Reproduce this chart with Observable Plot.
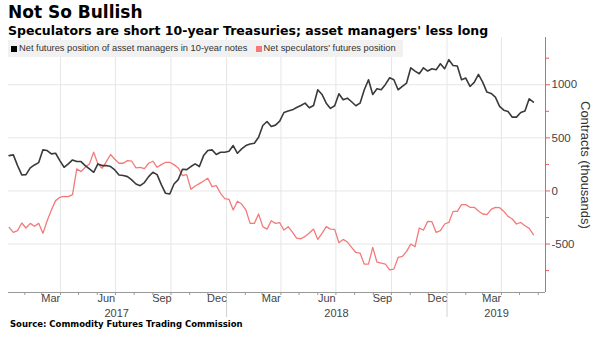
<!DOCTYPE html>
<html><head><meta charset="utf-8">
<script src="https://cdn.jsdelivr.net/npm/d3@7"></script>
<script src="https://cdn.jsdelivr.net/npm/@observablehq/plot@0.6"></script>
<style>
body{margin:0;background:#fff;}
#wrap{position:relative;width:607px;height:345px;overflow:hidden;font-family:"DejaVu Sans",sans-serif;color:#000;}
#title{position:absolute;left:8px;top:2px;font-weight:bold;font-size:17px;white-space:nowrap;}
#subtitle{position:absolute;left:8px;top:23px;font-weight:bold;font-size:12.5px;white-space:nowrap;}
#chart{position:absolute;left:0;top:30px;}
#legend{position:absolute;left:8px;top:40px;width:395px;height:17px;background:#f1f1f1;font-family:"Liberation Sans",sans-serif;font-size:9.3px;color:#333;line-height:17px;white-space:nowrap;}
#legend .sw{display:inline-block;width:6px;height:6px;margin:0 2px 0 3px;vertical-align:-0.5px;}
#ytitle{position:absolute;left:578px;top:100px;height:130px;writing-mode:vertical-rl;font-family:"Liberation Sans",sans-serif;font-size:13px;color:#333;white-space:nowrap;display:flex;align-items:center;justify-content:center;}
#source{position:absolute;left:10px;top:319px;font-weight:bold;font-size:8.5px;white-space:nowrap;}
</style></head>
<body><div id="wrap">
<div id="title">Not So Bullish</div>
<div id="subtitle">Speculators are short 10-year Treasuries; asset managers' less long</div>
<div id="chart"></div>
<div id="legend"></div>
<div id="ytitle"></div>
<div id="source">Source: Commodity Futures Trading Commission</div>
</div>
<script>
const seriesNames = ["Net futures position of asset managers in 10-year notes", "Net speculators' futures position"];
const seriesColors = ["#3a3a3a", "#f47a7a"];
const firstWeek = "2017-01-06";
const assetManagers = [333,340,239,151,154,217,245,267,387,381,349,355,286,223,255,292,277,277,239,208,
176,255,239,239,230,198,151,145,135,104,66,50,79,135,176,154,60,-22,-28,66,
107,204,201,230,255,230,333,381,387,343,365,365,374,428,355,396,428,443,450,506,
616,654,607,620,657,739,752,764,786,805,827,783,805,953,909,827,777,802,915,859,
874,840,802,827,953,1047,909,962,953,1003,1066,1047,953,984,1016,1160,1129,1104,1160,1129,
1151,1142,1198,1151,1236,1182,1176,1047,1063,984,1022,1097,1025,931,918,884,796,761,748,695,
695,739,752,868,837];
const speculators = [-343,-390,-374,-302,-349,-305,-333,-305,-399,-280,-179,-91,-60,-50,-53,-35,208,182,223,255,
365,255,214,277,343,299,261,261,286,280,217,223,211,261,280,223,248,270,270,248,
217,145,154,16,47,69,94,120,41,50,-22,-72,-79,-179,-97,-123,-179,-305,-305,-217,
-336,-359,-280,-305,-299,-368,-336,-387,-443,-450,-428,-396,-359,-456,-399,-336,-359,-362,-487,-456,
-481,-531,-579,-585,-689,-689,-531,-670,-679,-689,-742,-736,-626,-616,-569,-500,-525,-349,-368,-286,
-289,-390,-374,-311,-296,-192,-192,-129,-129,-154,-154,-189,-217,-223,-173,-154,-157,-192,-239,-264,
-311,-296,-327,-352,-412];
const xDomain = ["2017-01-05", "2019-06-13"];
const yDomain = [-956, 1445];
const yTickValues = [-500, 0, 500, 1000];
const yMinorTicks = [-750, -250, 250, 750, 1250];
const monthLabelDates = ["2017-03-16","2017-06-16","2017-09-16","2017-12-16","2018-03-16","2018-06-16","2018-09-16","2018-12-16","2019-03-16"];
const quarterGridDates = ["2017-04-01","2017-07-01","2017-10-01","2018-01-01","2018-04-01","2018-07-01","2018-10-01","2019-01-01","2019-04-01"];
const yearSeparators = ["2018-01-01","2019-01-01"];
const yearLabels = ["2017","2018","2019"];
const yearLabelDates = ["2017-07-03","2018-07-02","2019-03-24"];
const axisTitle = "Contracts (thousands)";

const D = s => new Date(s + "T00:00:00Z");
const start = D(firstWeek);
const weekDates = assetManagers.map((_, i) => d3.utcDay.offset(start, 7 * i));
const amData = assetManagers.map((v, i) => ({date: weekDates[i], value: v}));
const spData = speculators.map((v, i) => ({date: weekDates[i], value: v}));
const xd = xDomain.map(D);
const monthTicks = d3.utcMonths(xd[0], xd[1]);

const chart = Plot.plot({
  width: 607, height: 290,
  marginLeft: 8, marginRight: 62, marginTop: 7, marginBottom: 28,
  style: {fontFamily: "'Liberation Sans', sans-serif", fontSize: "11px", background: "transparent", color: "#444"},
  x: {type: "utc", domain: xd, label: null},
  y: {domain: yDomain, label: null},
  marks: [
    Plot.gridX(quarterGridDates.map(D), {stroke: "#e6e6e6", strokeOpacity: 1}),
    Plot.gridY(yTickValues, {stroke: "#e6e6e6", strokeOpacity: 1}),
    Plot.ruleY([yDomain[0]], {stroke: "#999"}),
    Plot.axisX(monthTicks, {tickSize: 3, tickFormat: () => "", stroke: "#999"}),
    Plot.axisX(yearSeparators.map(D), {tickSize: 25, tickFormat: () => "", stroke: "#d0d0d0"}),
    Plot.axisX(monthLabelDates.map(D), {tickSize: 0, tickPadding: 2, tickFormat: d3.utcFormat("%b"), fill: "#444"}),
    Plot.text(yearLabels, {x: (d, i) => D(yearLabelDates[i]), text: d => d, frameAnchor: "bottom", lineAnchor: "middle", dy: 21, fill: "#444"}),
    Plot.ruleX([xd[1]], {stroke: "#f25a5a"}),
    Plot.axisY(yTickValues, {anchor: "right", tickSize: 4, tickPadding: 2, stroke: "#f25a5a", fill: "#444", fontSize: 11.5, tickFormat: d => String(d)}),
    Plot.axisY(yMinorTicks, {anchor: "right", tickSize: 3, tickFormat: () => "", stroke: "#f25a5a"}),
    Plot.line(spData, {x: "date", y: "value", stroke: seriesColors[1], strokeWidth: 1.3}),
    Plot.line(amData, {x: "date", y: "value", stroke: seriesColors[0], strokeWidth: 1.6})
  ]
});
document.getElementById("chart").appendChild(chart);
document.getElementById("ytitle").textContent = axisTitle;
const legend = document.getElementById("legend");
legend.innerHTML = seriesNames.map((n, i) =>
  `<span class="sw" style="background:${i === 0 ? "#000" : seriesColors[1]}"></span>${n}`).join("&nbsp;&nbsp;");
</script>
</body></html>
